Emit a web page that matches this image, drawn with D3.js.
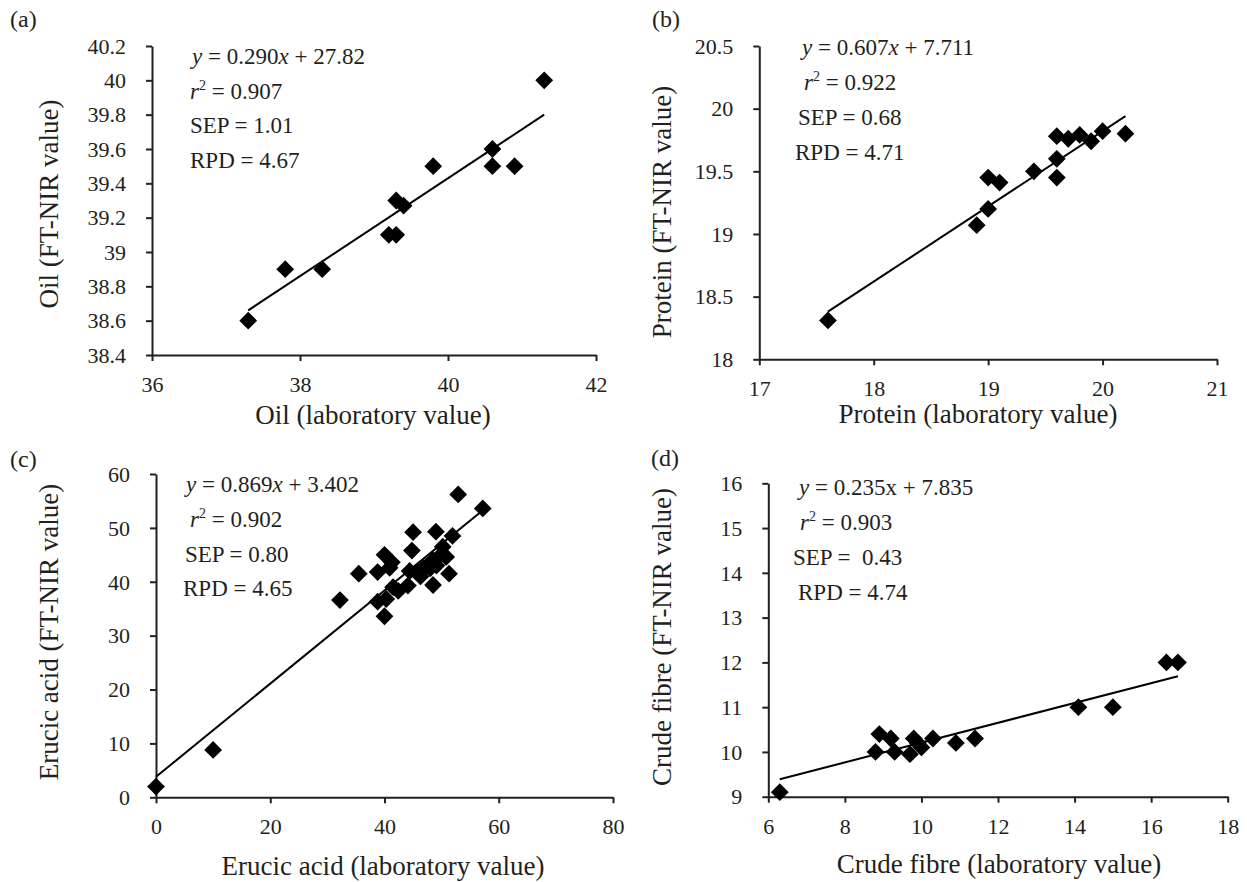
<!DOCTYPE html>
<html lang="en">
<head>
    <meta charset="UTF-8">
    <title>FT-NIR calibration plots</title>
    <script src="https://cdn.jsdelivr.net/npm/d3@7/dist/d3.min.js"></script>
    <style>
        body { margin: 0; background: #fff; }
        svg text { font-family: "Liberation Serif", "DejaVu Serif", serif; fill: #231f20; white-space: pre; }
    </style>
</head>
<body>
<script>
    // panel tags
    var panelLabels = ["(a)", "(b)", "(c)", "(d)"];

    // (a) oil
    var oilLab = [37.3, 37.8, 38.3, 39.2, 39.3, 39.3, 39.4, 39.8, 40.6, 40.6, 40.9, 41.3];
    var oilNir = [38.6, 38.9, 38.9, 39.1, 39.1, 39.3, 39.27, 39.5, 39.6, 39.5, 39.5, 40.0];
    var oilFit = [[37.3, 38.66], [41.3, 39.80]];
    var oilXTicks = [36, 38, 40, 42];
    var oilYTicks = [38.4, 38.6, 38.8, 39, 39.2, 39.4, 39.6, 39.8, 40, 40.2];

    // (b) protein
    var proteinLab = [17.6, 18.9, 19.0, 19.0, 19.1, 19.4, 19.6, 19.6, 19.6, 19.7, 19.8, 19.9, 20.0, 20.2];
    var proteinNir = [18.31, 19.07, 19.2, 19.45, 19.41, 19.5, 19.6, 19.45, 19.78, 19.76, 19.79, 19.74, 19.82, 19.8];
    var proteinFit = [[17.6, 18.38], [20.2, 19.94]];
    var proteinXTicks = [17, 18, 19, 20, 21];
    var proteinYTicks = [18, 18.5, 19, 19.5, 20, 20.5];

    // (c) erucic acid
    var erucicLab = [0, 10, 32.2, 35.5, 38.8, 38.8, 40.0, 40.0, 40.3, 40.9, 41.3, 41.5, 42.4, 44.1, 44.4, 44.8,
                     45.0, 45.8, 46.3, 46.8, 47.5, 48.0, 48.5, 48.5, 49.0, 49.1, 49.7, 50.2, 50.8, 51.3, 51.9, 52.9, 57.2];
    var erucicNir = [2.0, 8.8, 36.6, 41.5, 36.3, 41.8, 33.6, 45.0, 36.8, 42.6, 43.6, 39.0, 38.3, 39.3, 42.0, 45.8,
                     49.2, 41.8, 41.0, 42.5, 43.0, 42.5, 39.4, 44.0, 49.3, 43.0, 44.8, 46.5, 44.6, 41.5, 48.5, 56.2, 53.6];
    var erucicFit = [[0, 3.8], [57, 53.1]];
    var erucicXTicks = [0, 20, 40, 60, 80];
    var erucicYTicks = [0, 10, 20, 30, 40, 50, 60];

    // (d) crude fibre
    var fibreLab = [6.3, 8.8, 8.9, 9.2, 9.3, 9.7, 9.8, 9.9, 10.0, 10.3, 10.9, 11.4, 14.1, 15.0, 16.4, 16.7];
    var fibreNir = [9.1, 10.0, 10.4, 10.3, 10.0, 9.95, 10.3, 10.2, 10.1, 10.3, 10.2, 10.3, 11.0, 11.0, 12.0, 12.0];
    var fibreFit = [[6.3, 9.39], [16.7, 11.69]];
    var fibreXTicks = [6, 8, 10, 12, 14, 16, 18];
    var fibreYTicks = [9, 10, 11, 12, 13, 14, 15, 16];

    // axis titles
    var xTitles = ["Oil (laboratory value)", "Protein (laboratory value)", "Erucic acid (laboratory value)", "Crude fibre (laboratory value)"];
    var yTitles = ["Oil (FT-NIR value)", "Protein (FT-NIR value)", "Erucic acid (FT-NIR value)", "Crude fibre (FT-NIR value)"];

    // fit statistics
    var slopeText = ["0.290", "0.607", "0.869", "0.235"];
    var interceptText = ["27.82", "7.711", "3.402", "7.835"];
    var r2Text = ["0.907", "0.922", "0.902", "0.903"];
    var sepText = ["1.01", "0.68", "0.80", " 0.43"];
    var rpdText = ["4.67", "4.71", "4.65", "4.74"];

    var width = 1247, height = 882;
    var ink = "#231f20";

    var svg = d3.select("body").append("svg")
        .attr("width", width)
        .attr("height", height);

    // placement of each panel on the page
    var panels = [
        { lab: oilLab, nir: oilNir, fit: oilFit, xt: oilXTicks, yt: oilYTicks,
          x0: 152, x1: 596, yTop: 46, yBot: 355, tag: [10, 27],
          textX: [192, 190, 190, 190], textY: [64, 99, 133, 168], italicX: true,
          yTitle: [58, 204], xTitle: [373, 424] },
        { lab: proteinLab, nir: proteinNir, fit: proteinFit, xt: proteinXTicks, yt: proteinYTicks,
          x0: 759.3, x1: 1217, yTop: 46, yBot: 359.3, tag: [652, 27],
          textX: [802, 804, 798, 795], textY: [55, 90, 125, 160], italicX: true,
          yTitle: [671, 212], xTitle: [978, 423] },
        { lab: erucicLab, nir: erucicNir, fit: erucicFit, xt: erucicXTicks, yt: erucicYTicks,
          x0: 156, x1: 613, yTop: 474, yBot: 797.3, tag: [10, 467],
          textX: [186, 190, 185, 183], textY: [492, 527, 562, 596], italicX: true,
          yTitle: [58, 632], xTitle: [383, 875] },
        { lab: fibreLab, nir: fibreNir, fit: fibreFit, xt: fibreXTicks, yt: fibreYTicks,
          x0: 768.3, x1: 1227.7, yTop: 483.3, yBot: 796.7, tag: [651, 466],
          textX: [799, 800, 793, 798], textY: [495, 530, 565, 600], italicX: false,
          yTitle: [671, 637], xTitle: [999, 873] }
    ];

    var diamond = d3.symbol().type(d3.symbolSquare).size(158);

    panels.forEach(function (p, i) {
        var x = d3.scaleLinear().domain(d3.extent(p.xt)).range([p.x0, p.x1]);
        var y = d3.scaleLinear().domain(d3.extent(p.yt)).range([p.yBot, p.yTop]);
        var g = svg.append("g");

        // panel tag
        g.append("text")
            .attr("x", p.tag[0]).attr("y", p.tag[1])
            .attr("font-size", 24)
            .text(panelLabels[i]);

        // axes
        var xAxis = g.append("g")
            .attr("transform", "translate(0," + p.yBot + ")")
            .call(d3.axisBottom(x).tickValues(p.xt).tickSize(6).tickSizeOuter(0).tickFormat(d3.format("")));
        xAxis.selectAll("text").attr("y", 37).attr("dy", null);

        var yAxis = g.append("g")
            .attr("transform", "translate(" + p.x0 + ",0)")
            .call(d3.axisLeft(y).tickValues(p.yt).tickSize(6).tickSizeOuter(0)
                .tickFormat(function (d) { return String(+d.toFixed(1)); }));
        yAxis.selectAll("text").attr("x", -26).attr("dy", "0.33em");

        [xAxis, yAxis].forEach(function (a) {
            a.attr("font-family", null).attr("font-size", 22);
            a.selectAll("path, line").attr("stroke", ink).attr("stroke-width", 2);
            a.selectAll("text").attr("fill", ink);
        });

        // points
        g.selectAll(".pt")
            .data(d3.range(p.lab.length))
            .enter().append("path")
            .attr("class", "pt")
            .attr("d", diamond)
            .attr("fill", "#000")
            .attr("transform", function (k) {
                return "translate(" + x(p.lab[k]) + "," + y(p.nir[k]) + ") rotate(45)";
            });

        // trend line
        g.append("path")
            .datum(p.fit)
            .attr("fill", "none")
            .attr("stroke", "#000")
            .attr("stroke-width", 2)
            .attr("d", d3.line().x(function (d) { return x(d[0]); }).y(function (d) { return y(d[1]); }));

        // statistics block
        var fs = 23;
        var t1 = g.append("text").attr("x", p.textX[0]).attr("y", p.textY[0]).attr("font-size", fs);
        t1.append("tspan").attr("font-style", "italic").text("y");
        if (p.italicX) {
            t1.append("tspan").text(" = " + slopeText[i]);
            t1.append("tspan").attr("font-style", "italic").text("x");
            t1.append("tspan").text(" + " + interceptText[i]);
        } else {
            t1.append("tspan").text(" = " + slopeText[i] + "x + " + interceptText[i]);
        }

        var t2 = g.append("text").attr("x", p.textX[1]).attr("y", p.textY[1]).attr("font-size", fs);
        t2.append("tspan").attr("font-style", "italic").text("r");
        t2.append("tspan").attr("font-size", 14).attr("dy", -9).text("2");
        t2.append("tspan").attr("dy", 9).text(" = " + r2Text[i]);

        g.append("text").attr("x", p.textX[2]).attr("y", p.textY[2]).attr("font-size", fs)
            .text("SEP = " + sepText[i]);
        g.append("text").attr("x", p.textX[3]).attr("y", p.textY[3]).attr("font-size", fs)
            .text("RPD = " + rpdText[i]);

        // axis titles
        g.append("text")
            .attr("text-anchor", "middle")
            .attr("font-size", 27)
            .attr("x", p.xTitle[0]).attr("y", p.xTitle[1])
            .text(xTitles[i]);

        g.append("text")
            .attr("text-anchor", "middle")
            .attr("font-size", 27)
            .attr("transform", "translate(" + p.yTitle[0] + "," + p.yTitle[1] + ") rotate(-90)")
            .text(yTitles[i]);
    });
</script>
</body>
</html>
